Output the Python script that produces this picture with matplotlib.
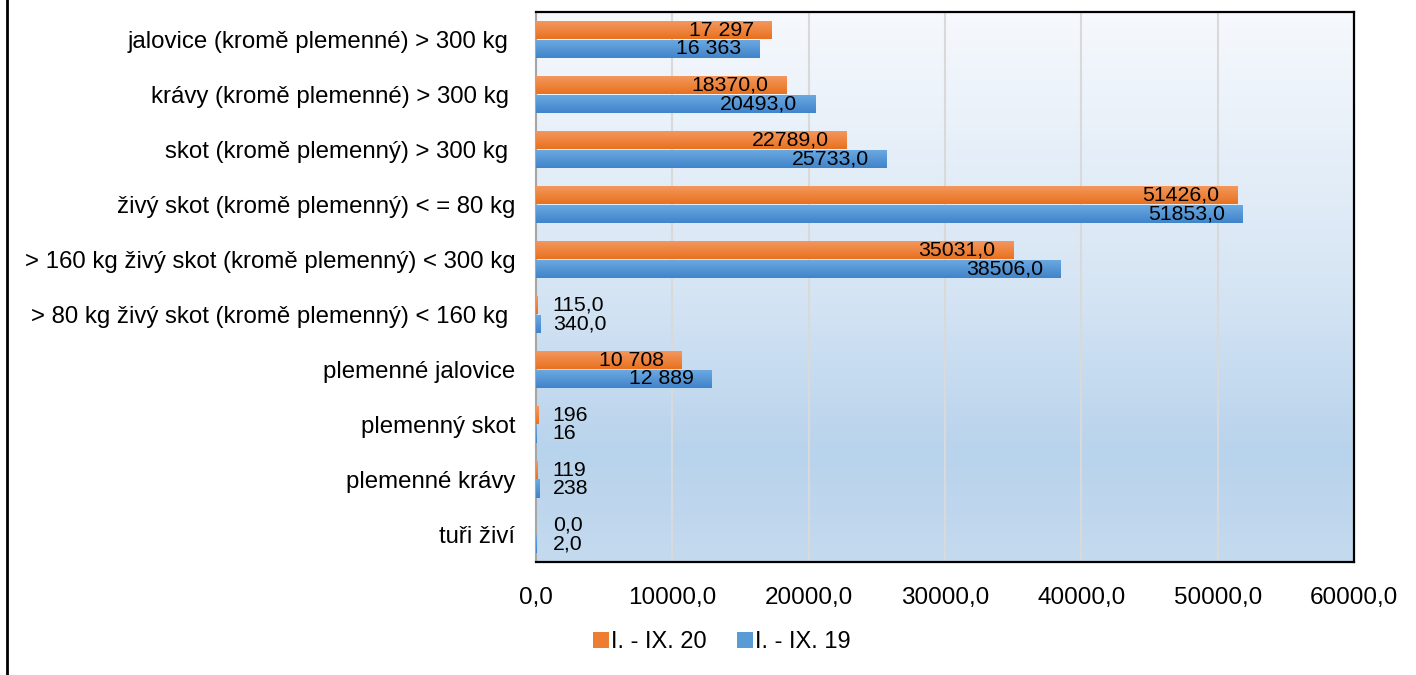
import numpy as np
import matplotlib.pyplot as plt
from matplotlib.colors import LinearSegmentedColormap
from matplotlib.patches import Patch
from matplotlib.lines import Line2D
from matplotlib.ticker import FuncFormatter

plt.rcParams["font.family"] = ["Liberation Sans", "DejaVu Sans"]

categories = [
    "jalovice (kromě plemenné) > 300 kg ",
    "krávy (kromě plemenné) > 300 kg ",
    "skot (kromě plemenný) > 300 kg ",
    "živý skot (kromě plemenný) < = 80 kg",
    "> 160 kg živý skot (kromě plemenný) < 300 kg",
    "> 80 kg živý skot (kromě plemenný) < 160 kg ",
    "plemenné jalovice",
    "plemenný skot",
    "plemenné krávy",
    "tuři živí",
]
v20 = [17297, 18370, 22789, 51426, 35031, 115, 10708, 196, 119, 0]
v19 = [16363, 20493, 25733, 51853, 38506, 340, 12889, 16, 238, 2]
lab20 = ["17 297", "18370,0", "22789,0", "51426,0", "35031,0", "115,0",
         "10 708", "196", "119", "0,0"]
lab19 = ["16 363", "20493,0", "25733,0", "51853,0", "38506,0", "340,0",
         "12 889", "16", "238", "2,0"]
series_names = ["I. - IX. 20", "I. - IX. 19"]

fig = plt.figure(figsize=(14.16, 6.75), dpi=100)
ax = fig.add_axes([536 / 1416, 1 - 562 / 675, 818 / 1416, 550 / 675])
ax.set_facecolor("none")

# plot area gradient
bg = LinearSegmentedColormap.from_list(
    "bg", [(0, "#f6f9fd"), (0.5, "#d6e5f4"), (0.8, "#b8d3ec"), (1, "#c4daef")])
grad = np.linspace(0, 1, 256).reshape(-1, 1)
ax.imshow(grad, cmap=bg, aspect="auto", extent=[0, 1, 0, 1],
          transform=ax.transAxes, zorder=0)

y = np.arange(len(categories))
h = 0.345
bars20 = ax.barh(y - h / 2, v20, height=h, color="#ed7d31", zorder=2)
bars19 = ax.barh(y + h / 2, v19, height=h, color="#5b9bd5", zorder=2)

def shade(bars, top, bottom):
    cm = LinearSegmentedColormap.from_list("c", [top, bottom])
    for b in bars:
        x0, y0 = b.get_x(), b.get_y()
        w, hh = b.get_width(), b.get_height()
        if w <= 0:
            continue
        im = ax.imshow(grad, cmap=cm, aspect="auto",
                       extent=[x0, x0 + w, y0 + hh, y0], zorder=3)
        im.set_clip_path(b)

shade(bars20, "#f49a62", "#e8711e")
shade(bars19, "#6eaae2", "#3f84ca")
ax.set_xlim(0, 60000)
ax.set_ylim(len(categories) - 0.5, -0.5)

for vals, labs, off in [(v20, lab20, -h / 2), (v19, lab19, h / 2)]:
    for i, (v, t) in enumerate(zip(vals, labs)):
        if v > 5000:
            ax.annotate(t, (v, i + off), xytext=(-13, 0), textcoords="offset points",
                        ha="right", va="center", fontsize=15.3, zorder=5)
        else:
            ax.annotate(t, (0, i + off), xytext=(12, 0), textcoords="offset points",
                        ha="left", va="center", fontsize=15.3, zorder=5)

ax.set_xticks(np.arange(0, 60001, 10000))
ax.xaxis.set_major_formatter(FuncFormatter(lambda x, p: f"{x:.1f}".replace(".", ",")))
ax.set_yticks(y)
ax.set_yticklabels(categories)
ax.tick_params(axis="y", length=0, pad=15, labelsize=17.3)
ax.tick_params(axis="x", length=0, pad=18, labelsize=17.5)
ax.grid(axis="x", color="#d9d9d9", lw=1.5, zorder=1)
ax.set_axisbelow(True)

for s in ["top", "right", "bottom"]:
    ax.spines[s].set_color("black")
    ax.spines[s].set_linewidth(1.6)
ax.spines["left"].set_color("#a6a6a6")
ax.spines["left"].set_linewidth(1.5)

handles = [Patch(facecolor="#ed7d31"), Patch(facecolor="#5b9bd5")]
fig.legend(handles, series_names, loc="center", bbox_to_anchor=(722 / 1416, 1 - 642 / 675),
           ncol=2, frameon=False, fontsize=17, handlelength=0.65, handleheight=0.65,
           handletextpad=0.1, columnspacing=1.3)

fig.add_artist(Line2D([7 / 1416, 7 / 1416], [0, 1], color="black", lw=2))

fig.savefig("out.png", dpi=100)
